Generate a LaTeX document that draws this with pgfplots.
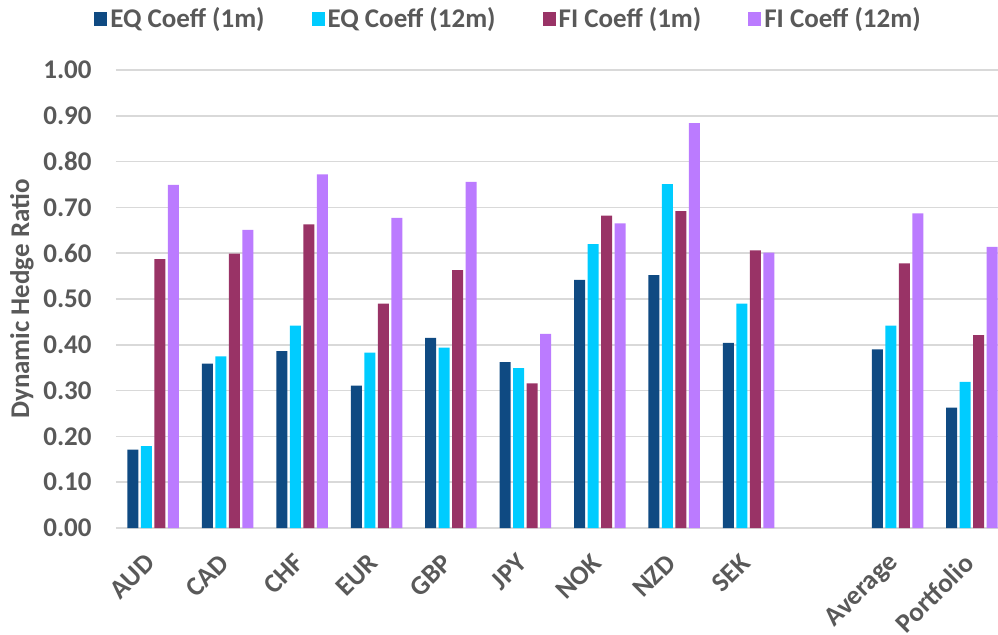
\documentclass[border=0pt]{standalone}
\usepackage{fontspec}
\setmainfont{Carlito}
\usepackage{pgfplots}
\pgfplotsset{compat=1.18}
\definecolor{eqone}{HTML}{0F4A82}
\definecolor{eqtwelve}{HTML}{00CCFF}
\definecolor{fione}{HTML}{993366}
\definecolor{fitwelve}{HTML}{BB7BFF}
\definecolor{gridgrey}{HTML}{D9D9D9}
\definecolor{labgrey}{HTML}{595959}

\begin{document}
\begin{tikzpicture}[font=\fontsize{13.5}{16}\selectfont\bfseries]
\begin{axis}[
  at={(0,0)},anchor=south west,
  scale only axis,width=441pt,height=229pt,
  ybar=1.25pt,bar width=5.5pt,
  xmin=-0.5,xmax=11.35,ymin=0,ymax=1,
  xtick={0,1,2,3,4,5,6,7,8,10,11},
  xticklabels={AUD,CAD,CHF,EUR,GBP,JPY,NOK,NZD,SEK,Average,Portfolio},
  ytick={0,0.1,...,1.01},
  /pgf/number format/assume math mode=true,
  yticklabel={\pgfmathprintnumber[fixed,fixed zerofill,precision=2]{\tick}},
  tick style={draw=none},
  axis x line*=bottom,axis y line*=left,
  y axis line style={draw=none},
  x axis line style={draw=gridgrey,line width=1.2pt},
  ymajorgrids,major grid style={draw=gridgrey,line width=0.8pt},
  ticklabel style={text=labgrey},
  yticklabel style={anchor=east,inner sep=0pt,xshift=-12pt},
  xticklabel style={xshift=-1.5pt,yshift=-11pt,rotate=45,anchor=east,inner sep=0pt},
  ylabel={Dynamic Hedge Ratio},
  every axis y label/.style={at={(axis description cs:0,0.5)},xshift=-47pt,rotate=90,anchor=center,text=labgrey},
  legend style={draw=none,fill=none,at={(0.4456,1)},anchor=center,yshift=25.5pt,
    legend columns=-1,text=labgrey,nodes={inner xsep=1.5pt},
    /tikz/every even column/.append style={column sep=22pt}},
  legend image code/.code={\fill[#1] (0pt,-3.7pt) rectangle (6.5pt,3.7pt);},
]
\addplot[fill=eqone,draw=none] coordinates {(0,0.171)(1,0.359)(2,0.386)(3,0.311)(4,0.415)(5,0.362)(6,0.542)(7,0.552)(8,0.404)(10,0.390)(11,0.263)};
\addlegendentry{EQ Coeff (1m)}
\addplot[fill=eqtwelve,draw=none] coordinates {(0,0.179)(1,0.375)(2,0.442)(3,0.383)(4,0.394)(5,0.349)(6,0.620)(7,0.751)(8,0.490)(10,0.442)(11,0.319)};
\addlegendentry{EQ Coeff (12m)}
\addplot[fill=fione,draw=none] coordinates {(0,0.587)(1,0.599)(2,0.663)(3,0.490)(4,0.563)(5,0.316)(6,0.682)(7,0.692)(8,0.606)(10,0.578)(11,0.421)};
\addlegendentry{FI Coeff (1m)}
\addplot[fill=fitwelve,draw=none] coordinates {(0,0.749)(1,0.651)(2,0.772)(3,0.677)(4,0.756)(5,0.424)(6,0.665)(7,0.884)(8,0.601)(10,0.687)(11,0.614)};
\addlegendentry{FI Coeff (12m)}
\end{axis}
\pgfresetboundingbox
\useasboundingbox (-58pt,-53pt) rectangle (441pt,264pt);
\end{tikzpicture}
\end{document}
